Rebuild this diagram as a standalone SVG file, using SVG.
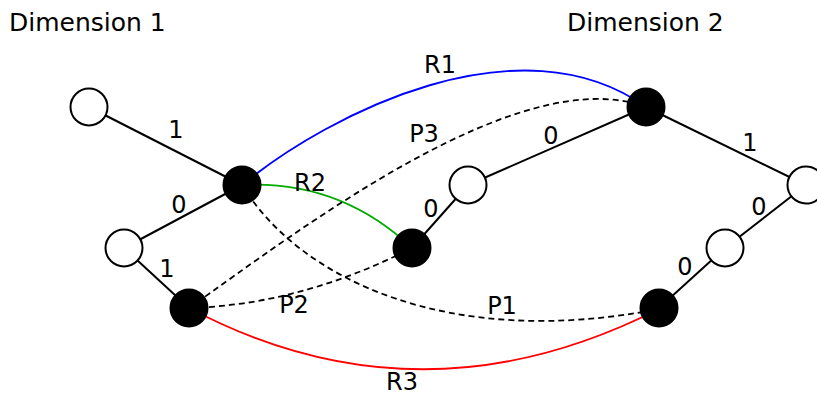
<svg xmlns="http://www.w3.org/2000/svg" width="817" height="396" viewBox="0 0 817 396">
<style>
text{font-family:"DejaVu Sans",sans-serif;font-size:24px;fill:#000}
.title{font-size:25px}
.lbl{text-anchor:middle}
.edge{stroke:#000;stroke-width:2;fill:none}
.arc{fill:none;stroke-width:1.9}
.dash{fill:none;stroke:#000;stroke-width:1.8;stroke-dasharray:6,4}
.open{fill:#fff;stroke:#000;stroke-width:2}
.full{fill:#000;stroke:#000;stroke-width:2}
</style>
<rect width="817" height="396" fill="#fff"/>
<text class="title" x="9" y="31">Dimension 1</text>
<text class="title" x="567" y="31">Dimension 2</text>
<g id="connectors">
<line class="edge" x1="89" y1="107" x2="242" y2="185"/>
<line class="edge" x1="124" y1="248" x2="242" y2="185"/>
<line class="edge" x1="124" y1="248" x2="189" y2="308"/>
<line class="edge" x1="412" y1="248" x2="468" y2="185"/>
<line class="edge" x1="468" y1="185" x2="646" y2="107"/>
<line class="edge" x1="646" y1="107" x2="806" y2="185"/>
<line class="edge" x1="806" y1="185" x2="725" y2="248"/>
<line class="edge" x1="725" y1="248" x2="659" y2="308"/>
<path class="arc" stroke="#0000ff" d="M242,185 C330,113 520,17 646,107"/>
<path class="arc" stroke="#00aa00" d="M242,185 Q340,180 412,248"/>
<path class="arc" stroke="#ff0000" d="M189,308 Q420,430 659,309"/>
<path class="dash" d="M189,308 C300,230 520,60 646,107"/>
<path class="dash" d="M189,308 Q300,305 412,248"/>
<path class="dash" d="M242,185 C300,280 450,350 659,309"/>
<text class="lbl" x="176" y="138">1</text>
<text class="lbl" x="179" y="213">0</text>
<text class="lbl" x="167" y="277">1</text>
<text class="lbl" x="431" y="217">0</text>
<text class="lbl" x="551" y="144">0</text>
<text class="lbl" x="750" y="151">1</text>
<text class="lbl" x="759" y="215">0</text>
<text class="lbl" x="685" y="275">0</text>
<text class="lbl" x="440" y="73">R1</text>
<text class="lbl" x="310" y="191">R2</text>
<text class="lbl" x="402" y="390">R3</text>
<text class="lbl" x="502" y="314">P1</text>
<text class="lbl" x="294" y="313">P2</text>
<text class="lbl" x="424" y="142">P3</text>
</g>
<g id="n1"><circle class="open" cx="89" cy="107" r="18.5"/></g>
<g id="n2"><circle class="full" cx="242" cy="185" r="18.5"/></g>
<g id="n3"><circle class="open" cx="124" cy="248" r="18.5"/></g>
<g id="n4"><circle class="full" cx="189" cy="308" r="18.5"/></g>
<g id="n5"><circle class="full" cx="412" cy="248" r="18.5"/></g>
<g id="n6"><circle class="open" cx="468" cy="185" r="18.5"/></g>
<g id="n7"><circle class="full" cx="646" cy="107" r="18.5"/></g>
<g id="n8"><circle class="open" cx="806" cy="185" r="18.5"/></g>
<g id="n9"><circle class="open" cx="725" cy="248" r="18.5"/></g>
<g id="n10"><circle class="full" cx="659" cy="308" r="18.5"/></g>
</svg>
